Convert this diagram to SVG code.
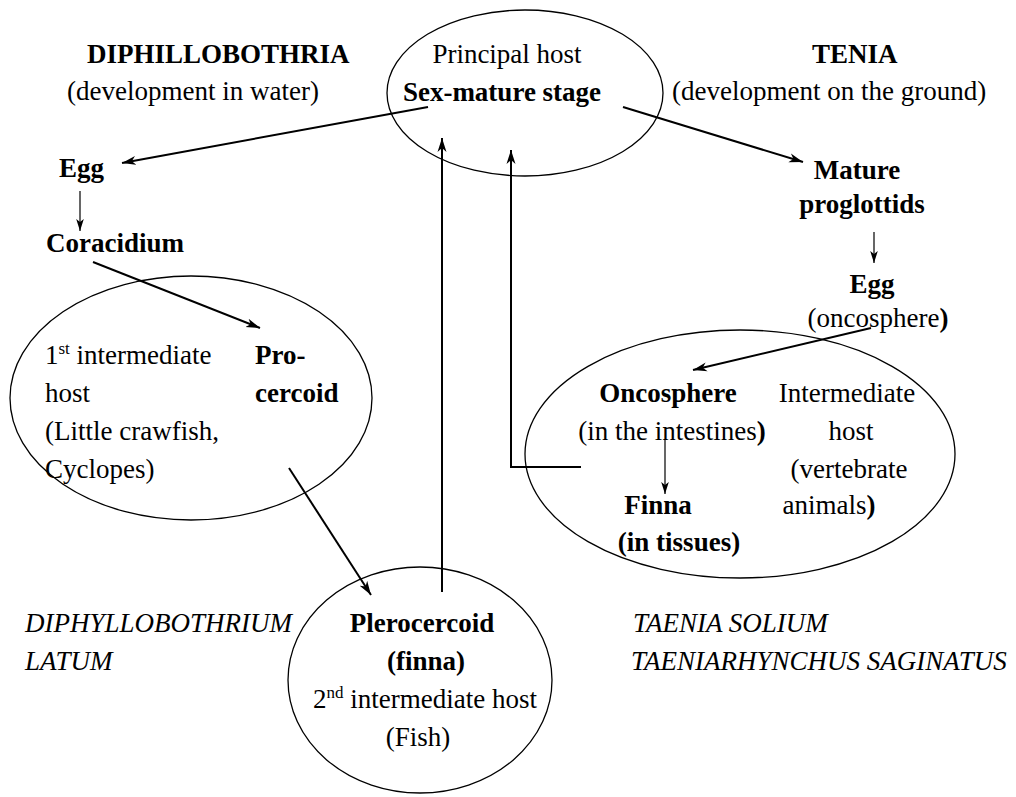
<svg xmlns="http://www.w3.org/2000/svg" width="1016" height="797" viewBox="0 0 1016 797">
<style>
text{font-family:"Liberation Serif",Tinos,"Times New Roman",Times,"Nimbus Roman","DejaVu Serif",serif;font-size:27px;fill:#000}
.b{font-weight:bold}
.i{font-style:italic}
.m{text-anchor:middle}
.ell{fill:none;stroke:#000;stroke-width:1.3}
.thick{fill:none;stroke:#000;stroke-width:2}
.thin{fill:none;stroke:#000;stroke-width:1.2}
.sup{font-size:17px}
</style>
<defs>
<marker id="ah" markerUnits="userSpaceOnUse" markerWidth="16" markerHeight="10" refX="14" refY="5" orient="auto">
<path d="M0,0.5 L14,5 L0,9.5 L4,5 z" fill="#000"/>
</marker>
<marker id="ahs" markerUnits="userSpaceOnUse" markerWidth="14" markerHeight="10" refX="12" refY="5" orient="auto">
<path d="M0,1.2 L12,5 L0,8.8 L3,5 z" fill="#000"/>
</marker>
</defs>
<rect width="1016" height="797" fill="#fff"/>

<g id="title-left">
<text class="b" x="87" y="63">DIPHILLOBOTHRIA</text>
<text x="67" y="100">(development in water)</text>
</g>
<g id="title-right">
<text class="b" x="812" y="63">TENIA</text>
<text x="672" y="100">(development on the ground)</text>
</g>

<g id="principal-host">
<ellipse class="ell" cx="525" cy="93" rx="138" ry="83"/>
<text class="m" x="507" y="63">Principal host</text>
<text class="b m" x="502" y="101">Sex-mature stage</text>
</g>

<g id="egg-left">
<text class="b" x="59" y="177">Egg</text>
</g>
<g id="coracidium">
<text class="b" x="46" y="252">Coracidium</text>
</g>

<g id="first-host">
<ellipse class="ell" cx="191" cy="398" rx="181" ry="122"/>
<text x="45" y="364">1<tspan class="sup" dy="-10">st</tspan><tspan dy="10"> intermediate</tspan></text>
<text x="45" y="402">host</text>
<text x="45" y="440">(Little crawfish,</text>
<text x="45" y="478">Cyclopes)</text>
<text class="b" x="255" y="364">Pro-</text>
<text class="b" x="255" y="402">cercoid</text>
</g>

<g id="second-host">
<ellipse class="ell" cx="420" cy="680" rx="132" ry="113"/>
<text class="b m" x="422" y="632">Plerocercoid</text>
<text class="b m" x="426" y="670">(finna)</text>
<text class="m" x="425" y="708">2<tspan class="sup" dy="-10">nd</tspan><tspan dy="10"> intermediate host</tspan></text>
<text class="m" x="418" y="746">(Fish)</text>
</g>

<g id="species-left">
<text class="i" x="25" y="632">DIPHYLLOBOTHRIUM</text>
<text class="i" x="25" y="670">LATUM</text>
</g>

<g id="mature-proglottids">
<text class="b m" x="857" y="179">Mature</text>
<text class="b m" x="862" y="213">proglottids</text>
</g>

<g id="egg-right">
<text class="b m" x="872" y="293">Egg</text>
<text class="m" x="878" y="327">(oncosphere<tspan class="b">)</tspan></text>
</g>

<g id="intermediate-host">
<ellipse class="ell" cx="740" cy="454" rx="215" ry="124"/>
<text class="b m" x="668" y="402">Oncosphere</text>
<text class="m" x="672" y="440">(in the intestines<tspan class="b">)</tspan></text>
<text class="b m" x="658" y="514">Finna</text>
<text class="b m" x="679" y="551">(in tissues)</text>
<text class="m" x="847" y="402">Intermediate</text>
<text class="m" x="851" y="440">host</text>
<text class="m" x="849" y="478">(vertebrate</text>
<text class="m" x="829" y="514">animals<tspan class="b">)</tspan></text>
</g>

<g id="species-right">
<text class="i" x="633" y="632">TAENIA SOLIUM</text>
<text class="i" x="631" y="670">TAENIARHYNCHUS SAGINATUS</text>
</g>

<g id="connectors">
<line class="thick" x1="428" y1="107" x2="122" y2="163" marker-end="url(#ah)"/>
<line class="thick" x1="623" y1="107" x2="803" y2="162" marker-end="url(#ah)"/>
<line class="thin" x1="80" y1="191" x2="80" y2="231" marker-end="url(#ahs)"/>
<line class="thick" x1="93" y1="262" x2="260" y2="328" marker-end="url(#ah)"/>
<line class="thick" x1="289" y1="468" x2="371" y2="595" marker-end="url(#ah)"/>
<line class="thick" x1="442" y1="592" x2="442" y2="138" marker-end="url(#ah)"/>
<line class="thin" x1="874" y1="232" x2="874" y2="263" marker-end="url(#ahs)"/>
<line class="thick" x1="871" y1="328" x2="693" y2="370" marker-end="url(#ah)"/>
<line class="thin" x1="665" y1="440" x2="665" y2="494" marker-end="url(#ahs)"/>
<path class="thick" d="M581,467 H511 V150" marker-end="url(#ah)"/>
</g>
</svg>
